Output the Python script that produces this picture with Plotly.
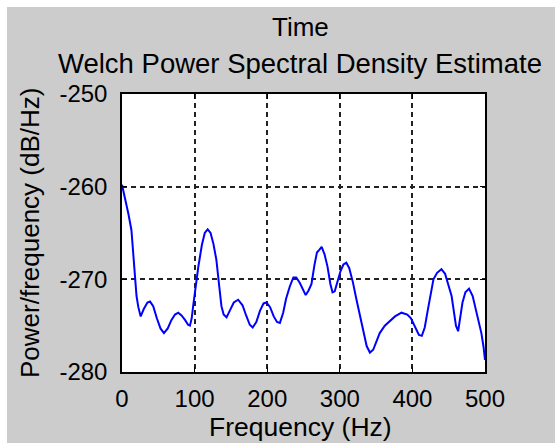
import plotly.graph_objects as go

freq = [0, 3, 6, 9, 13, 16, 18, 20, 22.5, 25.7, 30, 35, 38.6, 43, 48, 53, 57.8, 63, 68, 73,
        77.5, 82, 87, 91, 93.6, 96, 98, 101, 105, 110, 114, 118, 122, 126, 130, 134, 137, 140,
        144, 149, 154, 160, 166, 171, 176, 180, 185, 190, 195, 199, 204, 209, 213.5, 217.5,
        222, 226, 231, 236, 240, 245, 249, 253, 257, 261, 265, 268.5, 272, 275, 279, 283, 287,
        290, 293, 297, 301, 305, 309, 313, 318, 323, 328, 333, 337, 341.5, 346, 350, 355, 362,
        369, 376, 385, 393, 398, 401, 405, 409, 413, 417, 421, 425, 429, 434, 440, 445, 450,
        454, 457, 460, 463, 466, 469, 473, 478, 483, 487, 491, 495, 498, 500]
psd = [-259.8, -260.8, -261.8, -263.0, -264.7, -267.5, -270.0, -271.8, -273.0, -274.0, -273.2,
       -272.5, -272.4, -272.9, -274.2, -275.3, -275.8, -275.3, -274.4, -273.8, -273.6, -273.9,
       -274.4, -274.9, -275.0, -274.2, -272.9, -271.0, -268.7, -266.3, -265.0, -264.6, -265.0,
       -266.2, -267.9, -270.8, -272.9, -273.8, -274.1, -273.3, -272.5, -272.2, -272.8, -273.9,
       -274.9, -275.2, -274.6, -273.4, -272.6, -272.5, -273.0, -274.0, -274.6, -274.7, -273.6,
       -272.1, -270.8, -269.8, -269.8, -270.4, -271.1, -271.7, -271.2, -270.5, -268.5, -267.1,
       -266.8, -266.5, -267.3, -268.6, -270.5, -271.4, -271.3, -270.2, -269.1, -268.4, -268.2,
       -268.8, -270.3, -272.2, -274.0, -275.9, -277.2, -277.9, -277.6, -276.8, -275.8, -275.0,
       -274.5, -274.0, -273.6, -273.8, -274.2, -274.7, -275.4, -276.0, -276.1, -275.2, -273.4,
       -271.6, -270.0, -269.3, -268.9, -269.4, -270.8, -271.8, -273.4, -275.0, -275.6, -274.2,
       -272.5, -271.4, -271.0, -271.8, -273.2, -274.3, -275.8, -277.3, -278.7]

x_ticks = [0, 100, 200, 300, 400, 500]
x_tick_labels = ["0", "100", "200", "300", "400", "500"]
y_ticks = [-280, -270, -260, -250]
y_tick_labels = ["-280", "-270", "-260", "-250"]

FONT = "Liberation Sans, Arial, sans-serif"

fig = go.Figure()
fig.add_trace(go.Scatter(x=freq, y=psd, mode="lines",
                         line=dict(color="#0000ff", width=2), showlegend=False))

L, R, T, B = 122, 70, 94, 71
W, H = 555, 443
pw, ph = W - L - R, H - T - B

def px2x(px):
    return (px - L) / pw

def py2y(py):
    return (H - B - py) / ph

axis_common = dict(
    showline=True, linecolor="black", linewidth=1.5, mirror="ticks",
    ticks="inside", ticklen=5, tickcolor="black", tickwidth=1,
    showgrid=True, gridcolor="#222222", gridwidth=1.5, griddash="5px,4px",
    zeroline=False, tickfont=dict(family=FONT, size=24, color="black"),
)

fig.update_xaxes(range=[0, 500], tickvals=x_ticks, ticktext=x_tick_labels,
                 ticklabelstandoff=4, **axis_common)
fig.update_yaxes(range=[-280, -250], tickvals=y_ticks, ticktext=y_tick_labels,
                 ticklabelstandoff=8, **axis_common)

shapes = [
    dict(type="rect", xref="paper", yref="paper", x0=px2x(0), x1=px2x(W), y0=py2y(0), y1=py2y(7),
         fillcolor="white", line=dict(width=0), layer="below"),
    dict(type="rect", xref="paper", yref="paper", x0=px2x(0), x1=px2x(7), y0=py2y(0), y1=py2y(H),
         fillcolor="white", line=dict(width=0), layer="below"),
]

annotations = [
    dict(text="Time", xref="paper", yref="paper", x=px2x(300), y=py2y(27.5), showarrow=False,
         xanchor="center", yanchor="middle", font=dict(family=FONT, size=26, color="black")),
    dict(text="Welch Power Spectral Density Estimate", xref="paper", yref="paper",
         x=px2x(300), y=py2y(63), showarrow=False, xanchor="center", yanchor="middle",
         font=dict(family=FONT, size=27.5, color="black")),
    dict(text="Frequency (Hz)", xref="paper", yref="paper", x=px2x(300), y=py2y(427),
         showarrow=False, xanchor="center", yanchor="middle",
         font=dict(family=FONT, size=26.5, color="black")),
    dict(text="Power/frequency (dB/Hz)", xref="paper", yref="paper", x=px2x(30), y=py2y(233),
         showarrow=False, textangle=-90, xanchor="center", yanchor="middle",
         font=dict(family=FONT, size=26, color="black")),
]

fig.update_layout(
    width=W, height=H,
    margin=dict(l=L, r=R, t=T, b=B, pad=0),
    paper_bgcolor="#cccccc", plot_bgcolor="white",
    shapes=shapes, annotations=annotations,
    font=dict(family=FONT, color="black"),
)

fig.write_html("out.html")
